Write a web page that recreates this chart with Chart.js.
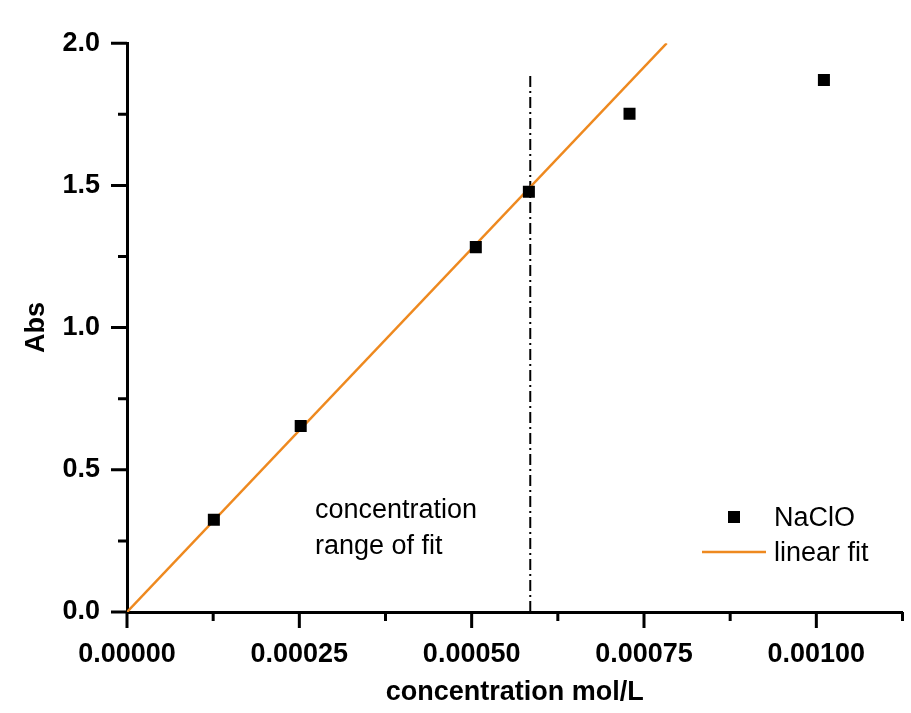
<!DOCTYPE html>
<html>
<head>
<meta charset="utf-8">
<title>NaClO Abs</title>
<script src="https://cdn.jsdelivr.net/npm/chart.js@4"></script>
<style>
  html, body { margin: 0; padding: 0; background: #ffffff; }
  #wrap { width: 911px; height: 713px; }
</style>
</head>
<body>
<div id="wrap"><canvas id="absChart" width="911" height="713"></canvas></div>
<script>
// medições (concentração mol/L, absorbância)
const concentration = [0.000126, 0.000252, 0.000506, 0.000583, 0.000729, 0.001011];
const absorbance = [0.324, 0.654, 1.283, 1.478, 1.752, 1.871];

// ajuste linear, desenhado de 0 até a borda superior
const fitX = [0, 0.000783];
const fitY = [0, 2.0];

// limite da faixa de ajuste (linha traço-ponto)
const rangeX = [0.000585, 0.000585];
const rangeY = [0, 1.887];

// ticks
const xMajorTicks = [0, 0.00025, 0.0005, 0.00075, 0.001];
const xMinorTicks = [0.000125, 0.000375, 0.000625, 0.000875, 0.001125];
const yMajorTicks = [0, 0.5, 1.0, 1.5, 2.0];
const yMinorTicks = [0.25, 0.75, 1.25, 1.75];

const legendLabels = ['NaClO', 'linear fit'];
const noteLines = ['concentration', 'range of fit'];

const ORANGE = '#ee891f';
const FONT = '"Liberation Sans", Arial, sans-serif';

// Desenha ticks maiores/menores, legenda e anotação
const extrasPlugin = {
    id: 'extras',
    afterDraw(chart) {
        const ctx = chart.ctx;
        const xs = chart.scales.x;
        const ys = chart.scales.y;
        const area = chart.chartArea;

        ctx.save();
        ctx.strokeStyle = '#000';
        ctx.lineWidth = 3;
        ctx.lineCap = 'butt';
        ctx.beginPath();
        xMajorTicks.forEach(v => {
            const px = xs.getPixelForValue(v);
            ctx.moveTo(px, area.bottom);
            ctx.lineTo(px, area.bottom + 16);
        });
        xMinorTicks.forEach(v => {
            const px = xs.getPixelForValue(v);
            ctx.moveTo(px, area.bottom);
            ctx.lineTo(px, area.bottom + 9);
        });
        yMajorTicks.forEach(v => {
            const py = ys.getPixelForValue(v);
            ctx.moveTo(area.left, py);
            ctx.lineTo(area.left - 16, py);
        });
        yMinorTicks.forEach(v => {
            const py = ys.getPixelForValue(v);
            ctx.moveTo(area.left, py);
            ctx.lineTo(area.left - 9, py);
        });
        ctx.stroke();

        // legenda
        ctx.fillStyle = '#000';
        ctx.fillRect(728, 511, 12, 12);
        ctx.strokeStyle = ORANGE;
        ctx.lineWidth = 2.5;
        ctx.beginPath();
        ctx.moveTo(702, 552);
        ctx.lineTo(766, 552);
        ctx.stroke();

        ctx.font = '27px ' + FONT;
        ctx.textAlign = 'left';
        ctx.textBaseline = 'alphabetic';
        ctx.fillStyle = '#000';
        ctx.fillText(legendLabels[0], 774, 526);
        ctx.fillText(legendLabels[1], 774, 561);

        // anotação
        ctx.fillText(noteLines[0], 315, 518);
        ctx.fillText(noteLines[1], 315, 554);
        ctx.restore();
    }
};

const tickFont = { family: FONT, size: 27, weight: 'bold' };
const titleFont = { family: FONT, size: 27, weight: 'bold' };

new Chart(document.getElementById('absChart').getContext('2d'), {
    type: 'scatter',
    data: {
        datasets: [
            {
                label: 'NaClO',
                data: concentration.map((c, i) => ({ x: c, y: absorbance[i] })),
                pointStyle: 'rect',
                pointRadius: 8.5,
                pointHoverRadius: 8.5,
                backgroundColor: '#000',
                borderWidth: 0,
                order: 0
            },
            {
                label: 'linear fit',
                data: fitX.map((c, i) => ({ x: c, y: fitY[i] })),
                showLine: true,
                borderColor: ORANGE,
                borderWidth: 2.5,
                pointRadius: 0,
                order: 1
            },
            {
                label: 'range',
                data: rangeX.map((c, i) => ({ x: c, y: rangeY[i] })),
                showLine: true,
                borderColor: '#000',
                borderWidth: 2,
                borderDash: [11, 4, 2, 4],
                pointRadius: 0,
                order: 2
            }
        ]
    },
    options: {
        responsive: false,
        animation: false,
        events: [],
        layout: { padding: { top: 39, right: 5, bottom: 4, left: 0 } },
        plugins: {
            legend: { display: false },
            tooltip: { enabled: false }
        },
        scales: {
            x: {
                type: 'linear',
                min: 0,
                max: 0.001125,
                afterBuildTicks: scale => { scale.ticks = xMajorTicks.map(v => ({ value: v })); },
                afterFit: scale => { scale.height = 97; },
                grid: { display: false, drawTicks: false },
                border: { display: true, color: '#000', width: 3 },
                ticks: {
                    padding: 26,
                    color: '#000',
                    font: tickFont,
                    maxRotation: 0,
                    callback: v => v.toFixed(5)
                },
                title: {
                    display: true,
                    text: 'concentration mol/L',
                    color: '#000',
                    font: titleFont,
                    padding: { top: 0, bottom: 0 }
                }
            },
            y: {
                type: 'linear',
                min: 0,
                max: 2.0,
                afterBuildTicks: scale => { scale.ticks = yMajorTicks.map(v => ({ value: v })); },
                afterFit: scale => { scale.width = 127; },
                grid: { display: false, drawTicks: false },
                border: { display: true, color: '#000', width: 3 },
                ticks: {
                    padding: 27,
                    color: '#000',
                    font: tickFont,
                    callback: v => v.toFixed(1)
                },
                title: {
                    display: true,
                    text: 'Abs',
                    color: '#000',
                    font: titleFont,
                    padding: { top: 20, bottom: 0 }
                }
            }
        }
    },
    plugins: [extrasPlugin]
});
</script>
</body>
</html>
